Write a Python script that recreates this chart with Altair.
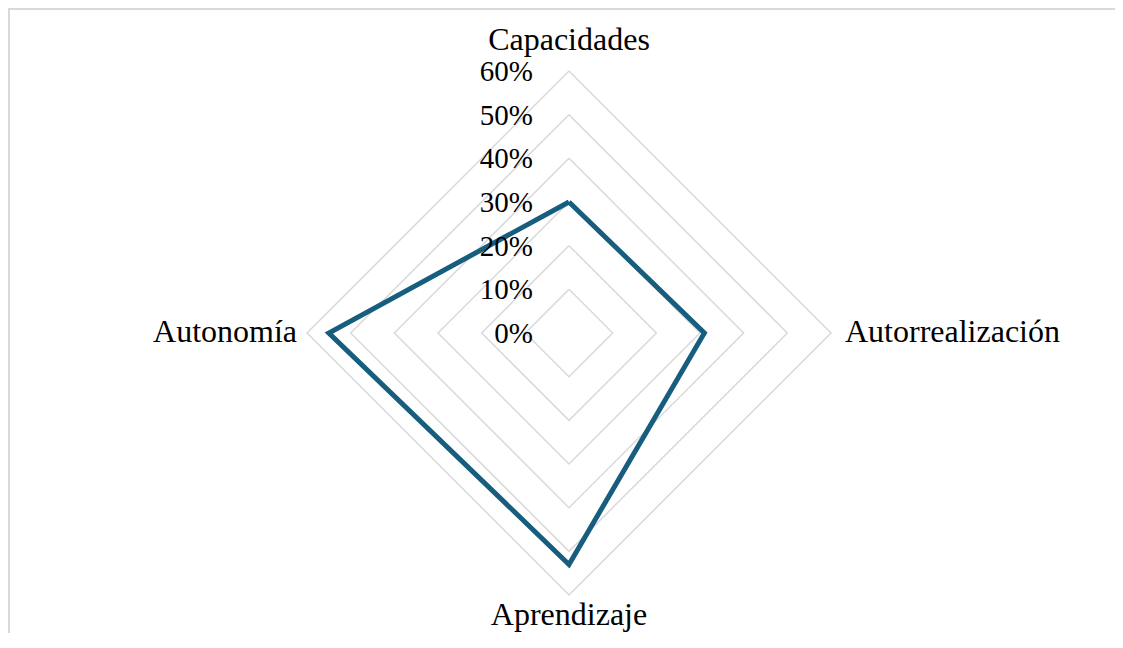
import altair as alt
import pandas as pd

# ---- data ----
categories = ["Capacidades", "Autorrealización", "Aprendizaje", "Autonomía"]
values = [0.30, 0.31, 0.53, 0.55]
levels = [0.1, 0.2, 0.3, 0.4, 0.5, 0.6]
tick_values = [0.0, 0.1, 0.2, 0.3, 0.4, 0.5, 0.6]
tick_labels = ["0%", "10%", "20%", "30%", "40%", "50%", "60%"]

# ---- tables built from the arrays ----
n = len(categories)
series_rows = []
for k in range(n + 1):
    i = k % n
    series_rows.append({"k": k, "cat": categories[i], "r": values[i]})
series_df = pd.DataFrame(series_rows)

grid_rows = []
for lv in levels:
    for k in range(n + 1):
        grid_rows.append({"level": lv, "k": k, "r": lv})
grid_df = pd.DataFrame(grid_rows)

label_df = pd.DataFrame({"k": list(range(n)), "cat": categories, "r": [max(levels)] * n})
tick_df = pd.DataFrame({"v": tick_values, "lab": tick_labels})

W, H = 1107, 625
PX = 262 / 0.6          # pixels per unit radius
CX, CY = 561, 325       # centre inside the plot area
xs = alt.Scale(domain=[-CX / PX, (W - CX) / PX], nice=False, zero=False)
ys = alt.Scale(domain=[-(H - CY) / PX, CY / PX], nice=False, zero=False)

FONT = "Liberation Serif"
GRID = "#d9d9d9"
LINE = "#175e7e"

polar = dict(
    px="datum.r * sin(datum.k * PI / 2)",
    py="datum.r * cos(datum.k * PI / 2)",
)

grid = (
    alt.Chart(grid_df)
    .transform_calculate(**polar)
    .mark_line(color=GRID, strokeWidth=1.5)
    .encode(
        x=alt.X("px:Q", scale=xs, axis=None),
        y=alt.Y("py:Q", scale=ys, axis=None),
        detail="level:N",
        order="k:Q",
    )
)

series = (
    alt.Chart(series_df)
    .transform_calculate(**polar)
    .mark_line(color=LINE, strokeWidth=5, strokeJoin="miter")
    .encode(
        x=alt.X("px:Q", scale=xs, axis=None),
        y=alt.Y("py:Q", scale=ys, axis=None),
        order="k:Q",
    )
)

ticks = (
    alt.Chart(tick_df)
    .transform_calculate(px="0")
    .mark_text(font=FONT, fontSize=29, align="right", baseline="alphabetic", dx=-36, dy=10, color="#000000")
    .encode(
        x=alt.X("px:Q", scale=xs, axis=None),
        y=alt.Y("v:Q", scale=ys, axis=None),
        text="lab:N",
    )
)

lab_base = alt.Chart(label_df).transform_calculate(**polar)
lab_enc = dict(
    x=alt.X("px:Q", scale=xs, axis=None),
    y=alt.Y("py:Q", scale=ys, axis=None),
    text="cat:N",
)
lab_top = lab_base.transform_filter("datum.k == 0").mark_text(
    font=FONT, fontSize=32, align="center", baseline="alphabetic", dy=-21, color="#000000"
).encode(**lab_enc)
lab_bottom = lab_base.transform_filter("datum.k == 2").mark_text(
    font=FONT, fontSize=32, align="center", baseline="alphabetic", dy=30, color="#000000"
).encode(**lab_enc)
lab_right = lab_base.transform_filter("datum.k == 1").mark_text(
    font=FONT, fontSize=32, align="left", baseline="alphabetic", dx=14, dy=9, color="#000000"
).encode(**lab_enc)
lab_left = lab_base.transform_filter("datum.k == 3").mark_text(
    font=FONT, fontSize=32, align="right", baseline="alphabetic", dx=-10, dy=9, color="#000000"
).encode(**lab_enc)

border_left = alt.Chart(label_df).mark_rule(color=GRID, strokeWidth=2).encode(
    x=alt.value(1), y=alt.value(0), y2=alt.value(H)
)
border_top = alt.Chart(label_df).mark_rule(color=GRID, strokeWidth=2).encode(
    y=alt.value(1), x=alt.value(0), x2=alt.value(W)
)

chart = (
    alt.layer(border_left, border_top, grid, series, ticks, lab_top, lab_bottom, lab_right, lab_left)
    .properties(width=W, height=H, autosize=alt.AutoSizeParams(type="none"), padding=0, background="white")
    .configure_view(stroke="transparent", strokeWidth=0)
)

chart.save("out.html", embed_options={"renderer": "svg", "actions": False})
